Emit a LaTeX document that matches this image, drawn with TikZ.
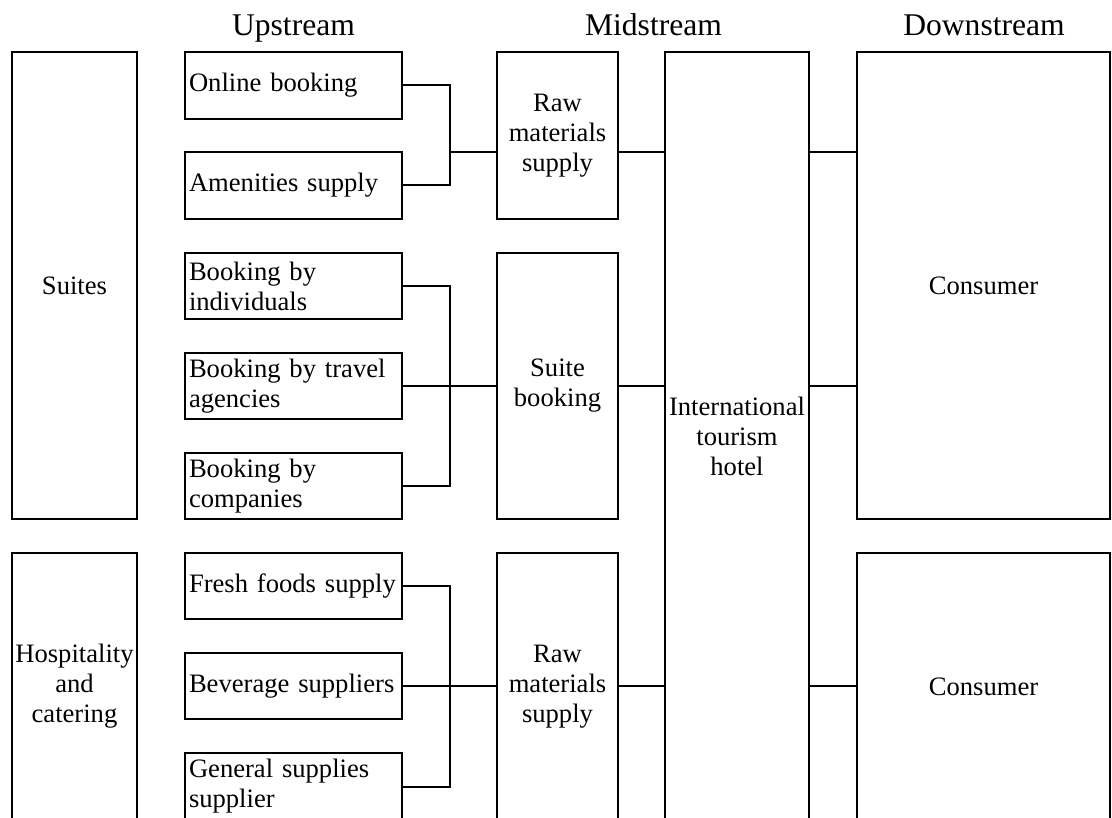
\documentclass[tikz,border=0pt]{standalone}
\usepackage{fontspec}
\setmainfont{Liberation Serif}
\begin{document}
\begin{tikzpicture}[x=1pt,y=-1pt,
  box/.style={draw=black, line width=2pt, rectangle, inner sep=0pt, align=center,
    font=\fontsize{26.6}{30}\selectfont},
  upbox/.style={box, align=left, text width=209pt, inner sep=4pt, minimum width=217pt, minimum height=66pt},
  head/.style={anchor=base, inner sep=0pt, font=\fontsize{31.6}{36}\selectfont},
  conn/.style={line width=2pt, line cap=rect}]
\useasboundingbox (0,0) rectangle (1112,818);
\clip (0,0) rectangle (1112,818);
% headers
\node[head] (hu) at (293.5,36) {Upstream};
\node[head] (hm) at (653.5,36) {Midstream};
\node[head] (hd) at (984,36) {Downstream};
% left boxes
\node[box, minimum width=125pt, minimum height=467pt] (suites) at (74.5,285.5) {Suites};
\node[box, minimum width=125pt, minimum height=267pt] (hosp) at (74.5,686.5) {Hospitality\\and\\catering};
% upstream boxes
\node[upbox, minimum height=67pt] (ob) at (293.5,85.5) {Online booking};
\node[upbox, minimum height=67pt] (am) at (293.5,185.5) {Amenities supply};
\node[upbox] (bi) at (293.5,286) {Booking by\\individuals};
\node[upbox] (bt) at (293.5,386) {Booking by travel\\agencies};
\node[upbox] (bc) at (293.5,486) {Booking by\\companies};
\node[upbox] (ff) at (293.5,586) {Fresh foods supply};
\node[upbox] (bv) at (293.5,686) {Beverage suppliers};
\node[upbox, minimum height=67pt] (gs) at (293.5,786.5) {General supplies\\supplier};
% midstream boxes
\node[box, minimum width=121pt, minimum height=167pt] (rm1) at (557.5,135.5) {Raw\\materials\\supply};
\node[box, minimum width=121pt, minimum height=266pt] (sb) at (557.5,386) {Suite\\booking};
\node[box, minimum width=121pt, minimum height=267pt] (rm2) at (557.5,686.5) {Raw\\materials\\supply};
\node[box, minimum width=144pt, minimum height=768pt] (hotel) at (737,436) {International\\tourism\\hotel};
% downstream boxes
\node[box, minimum width=253pt, minimum height=467pt] (con1) at (983.5,285.5) {Consumer};
\node[box, minimum width=253pt, minimum height=267pt] (con2) at (983.5,686.5) {Consumer};
% bracket junctions
\coordinate (j1) at (450,152);
\coordinate (j2) at (450,386);
\coordinate (j3) at (450,686);
% connectors
\draw[conn] (ob.east) -| (j1) |- (am.east);
\draw[conn] (j1) -- (rm1.west |- j1);
\draw[conn] (rm1.east |- j1) -- (hotel.west |- j1);
\draw[conn] (hotel.east |- j1) -- (con1.west |- j1);
\draw[conn] (bi.east) -| (j2) |- (bc.east);
\draw[conn] (bt.east) -- (sb.west);
\draw[conn] (sb.east) -- (hotel.west |- sb.east);
\draw[conn] (hotel.east |- sb.east) -- (con1.west |- sb.east);
\draw[conn] (ff.east) -| (j3) |- (gs.east);
\draw[conn] (bv.east) -- (rm2.west |- bv.east);
\draw[conn] (rm2.east |- bv.east) -- (hotel.west |- bv.east);
\draw[conn] (hotel.east |- bv.east) -- (con2.west |- bv.east);
\end{tikzpicture}
\end{document}
